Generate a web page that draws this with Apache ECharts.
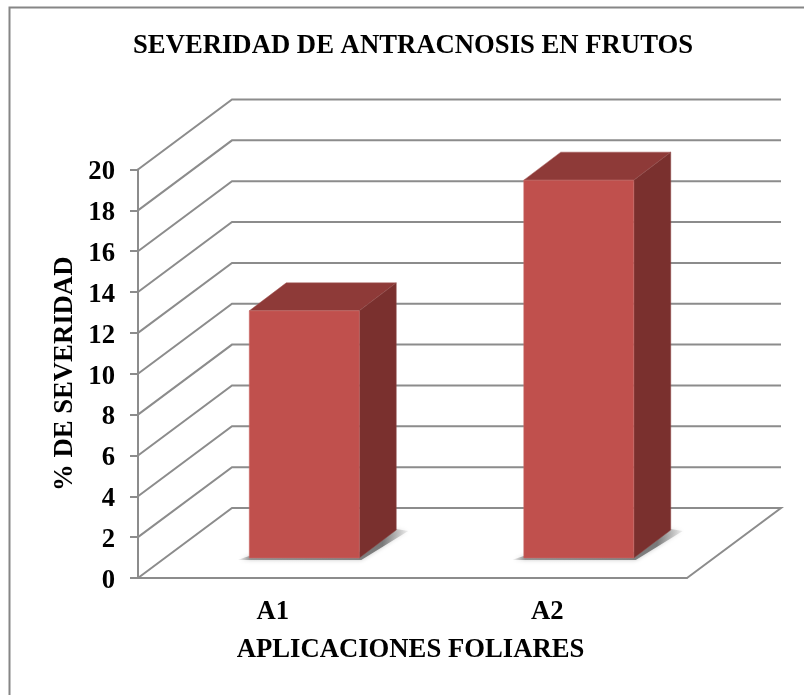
<!DOCTYPE html>
<html>
<head>
<meta charset="utf-8">
<style>html,body{margin:0;padding:0;background:#fff}#c{width:804px;height:695px}</style>
<script src="https://cdn.jsdelivr.net/npm/echarts@6/dist/echarts.min.js"></script>
</head>
<body>
<div id="c"></div>
<script>
const chartTitle = 'SEVERIDAD DE ANTRACNOSIS EN FRUTOS';
const xName = 'APLICACIONES FOLIARES';
const yName = '% DE SEVERIDAD';
const categories = ['A1', 'A2'];
const severity = [12.1, 18.5];
const yTicks = [0, 2, 4, 6, 8, 10, 12, 14, 16, 18, 20];

const FONT = '"Liberation Serif","Times New Roman",serif';
const FS = 26.7;
const GRID_COL = '#8c8c8c';
const LW = 2;
const WALL_DX = 94, WALL_DY = 70;
const BAR_DX = 37, BAR_DY = 28, BAR_HALF = 55, BAR_SHIFT_X = 29, BAR_LIFT = 20;

const chart = echarts.init(document.getElementById('c'), null, {renderer: 'canvas'});

function renderWall(params, api) {
  const cs = params.coordSys;
  const p = api.coord([0, api.value(1)]);
  const y = p[1];
  const rightFront = cs.x + cs.width;
  const pts = api.value(1) === yTicks[0]
    ? [[rightFront, y], [rightFront + WALL_DX, y - WALL_DY], [cs.x + WALL_DX, y - WALL_DY], [cs.x, y]]
    : [[cs.x, y], [cs.x + WALL_DX, y - WALL_DY], [rightFront + WALL_DX, y - WALL_DY]];
  return {type: 'polyline', shape: {points: pts},
    style: {stroke: GRID_COL, lineWidth: LW, fill: null}, silent: true};
}

function renderBar(params, api) {
  const top = api.coord([api.value(0), api.value(1)]);
  const base = api.coord([api.value(0), 0]);
  const l = top[0] + BAR_SHIFT_X - BAR_HALF, r = top[0] + BAR_SHIFT_X + BAR_HALF;
  const yb = base[1] - BAR_LIFT, yt = top[1] - BAR_LIFT;
  const shadowGrad = new echarts.graphic.LinearGradient(0, 0, 1, 0, [
    {offset: 0, color: 'rgba(120,120,120,0)'},
    {offset: 0.08, color: 'rgba(120,120,120,0.75)'},
    {offset: 0.85, color: 'rgba(100,100,100,0.8)'},
    {offset: 1, color: 'rgba(150,150,150,0.15)'}
  ]);
  return {type: 'group', children: [
    {type: 'polygon', shape: {points: [[l - 12, yb + 2], [r + 2, yb + 2], [r + BAR_DX + 12, yb - BAR_DY + 1], [r + BAR_DX, yb - BAR_DY - 1], [r, yb - 6], [l, yb - 2]]},
      style: {fill: shadowGrad, shadowBlur: 4, shadowColor: 'rgba(120,120,120,0.5)'}},
    {type: 'polygon', shape: {points: [[l, yt], [r, yt], [r + BAR_DX, yt - BAR_DY], [l + BAR_DX, yt - BAR_DY]]},
      style: {fill: '#8e3a38', stroke: '#a55a58', lineWidth: 0.5}},
    {type: 'polygon', shape: {points: [[r, yt], [r + BAR_DX, yt - BAR_DY], [r + BAR_DX, yb - BAR_DY], [r, yb]]},
      style: {fill: '#7a302e', stroke: '#8e4a48', lineWidth: 0.5}},
    {type: 'rect', shape: {x: l, y: yt, width: r - l, height: yb - yt},
      style: {fill: '#c0504d', stroke: '#cb6f6c', lineWidth: 0.5}}
  ]};
}

chart.setOption({
  animation: false,
  backgroundColor: '#fff',
  title: {text: chartTitle, left: 133, top: 33, padding: 0,
    textStyle: {fontFamily: FONT, fontWeight: 'bold', fontSize: FS, color: '#000'}},
  graphic: [{type: 'rect', shape: {x: 9.5, y: 7.5, width: 900, height: 900}, silent: true,
    style: {fill: null, stroke: '#868686', lineWidth: 2}, z: 0}],
  grid: {left: 138, width: 549, top: 169.5, height: 408.5},
  xAxis: {type: 'category', data: categories, boundaryGap: true,
    name: xName, nameLocation: 'middle', nameGap: 59, nameMoveOverlap: false,
    nameTextStyle: {fontFamily: FONT, fontWeight: 'bold', fontSize: FS, color: '#000', padding: [0, 4, 0, 0]},
    axisLine: {show: true, lineStyle: {color: GRID_COL, width: LW}},
    axisTick: {show: false},
    axisLabel: {fontFamily: FONT, fontWeight: 'bold', fontSize: FS, color: '#000', margin: 21, padding: [0, 5, 0, 0]}},
  yAxis: {type: 'value', min: 0, max: 20, interval: 2,
    name: yName, nameLocation: 'middle', nameGap: 59, nameMoveOverlap: false,
    nameTextStyle: {fontFamily: FONT, fontWeight: 'bold', fontSize: FS, color: '#000'},
    axisLine: {show: true, lineStyle: {color: GRID_COL, width: LW}},
    axisTick: {show: true, length: 8, lineStyle: {color: GRID_COL, width: LW}},
    splitLine: {show: false},
    axisLabel: {fontFamily: FONT, fontWeight: 'bold', fontSize: FS, color: '#000', margin: 23, verticalAlign: 'top', lineHeight: 6, showMinLabel: true, showMaxLabel: true}},
  series: [
    {type: 'custom', renderItem: renderWall, z: 1, silent: true,
      encode: {x: 0, y: 1}, data: yTicks.map(v => [categories[0], v])},
    {type: 'custom', renderItem: renderBar, z: 2, silent: true,
      encode: {x: 0, y: 1}, data: categories.map((c, i) => [c, severity[i]])}
  ]
});
</script>
</body>
</html>
